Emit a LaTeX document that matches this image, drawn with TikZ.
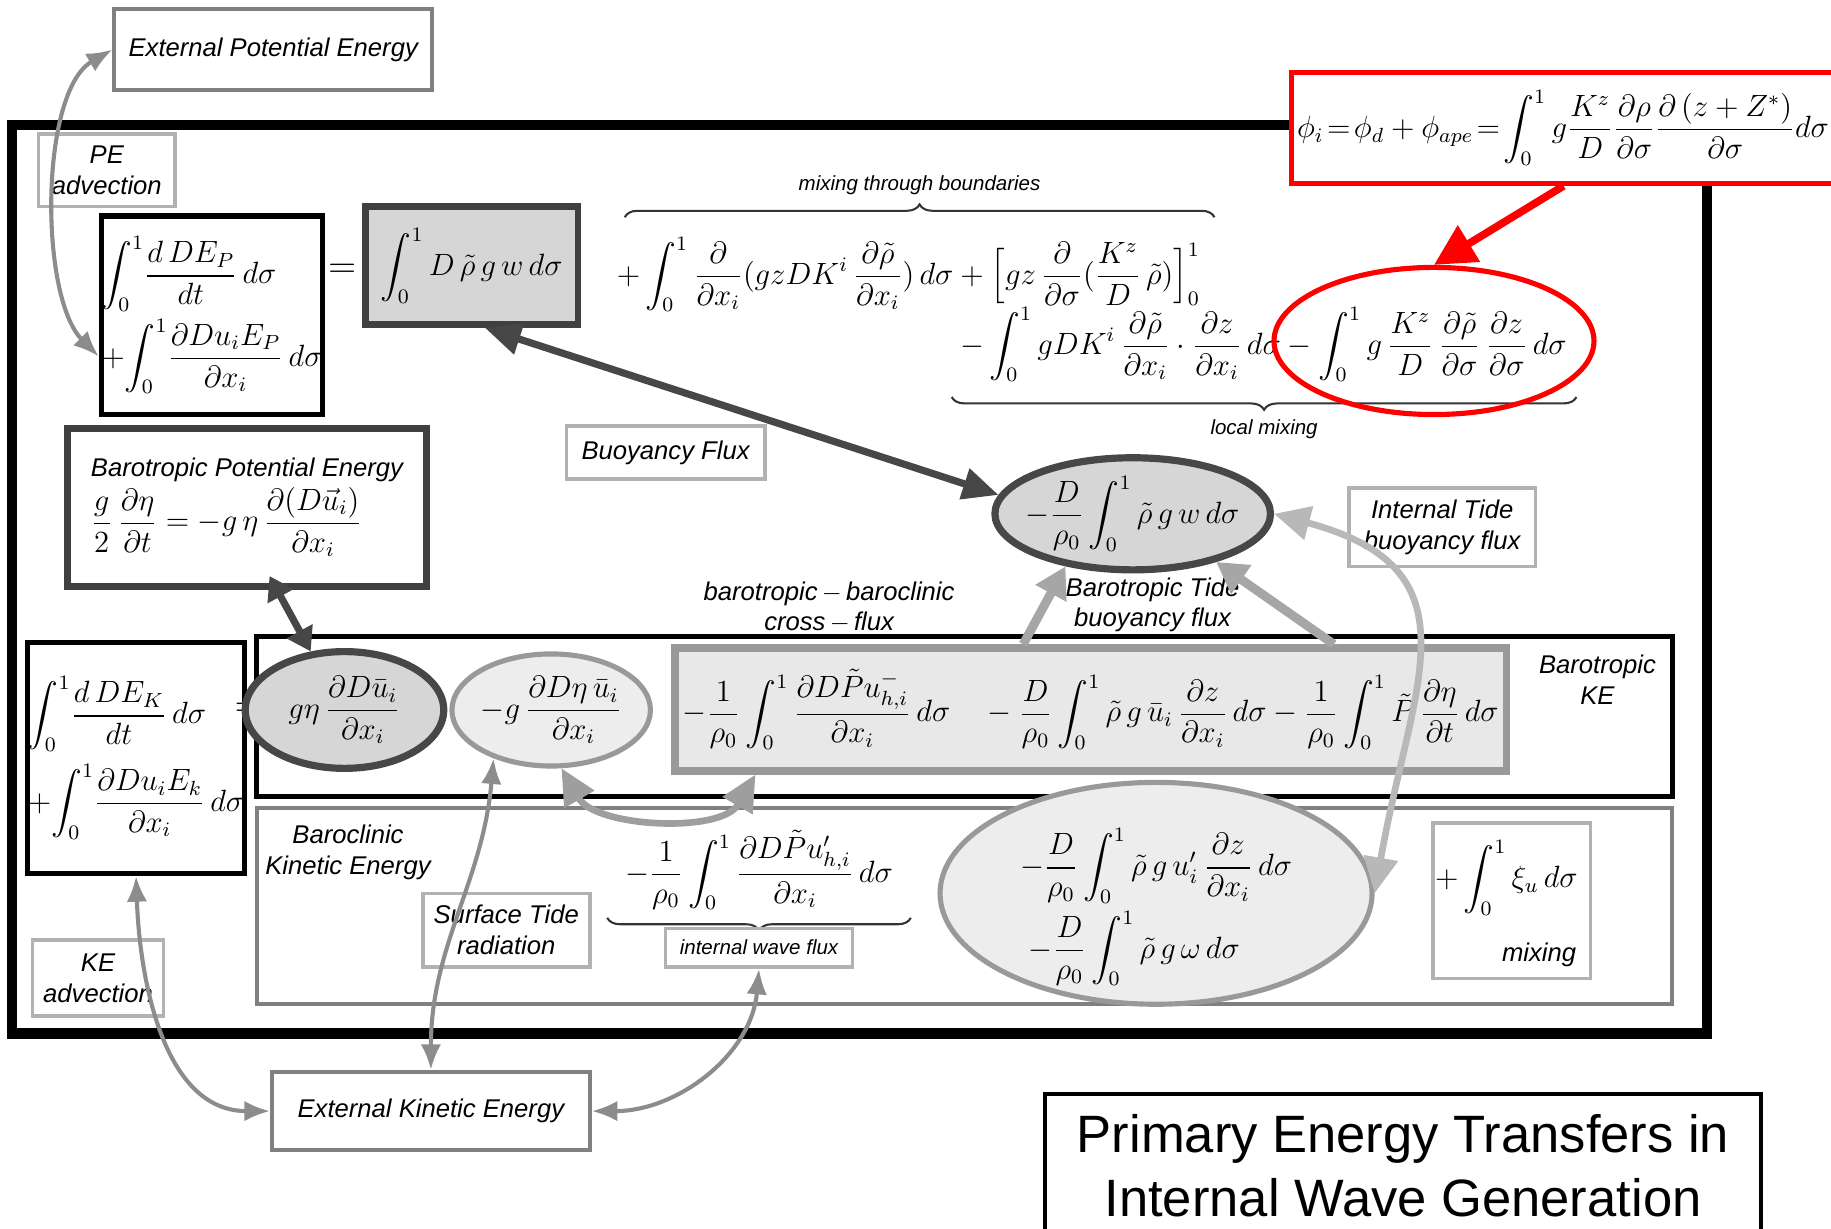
\documentclass[tikz,border=0pt]{standalone}
\usepackage{amsmath,amssymb}
\usepackage{fontspec}
\setmainfont{Liberation Sans}
\usepackage{tikz}
\usetikzlibrary{arrows.meta,calc,shapes.geometric,decorations.pathreplacing}
\newcommand{\pxu}{0.016cm}
\newcommand{\intl}{\int_0^1}
\tikzset{
  sz/.style 2 args={minimum width=#1*\pxu,minimum height=#2*\pxu},
  lbox/.style={draw=black!30,line width=1.4pt,fill=white,align=center,inner sep=0pt,font=\normalsize\itshape},
  mbox/.style={draw=black!50,line width=1.6pt,align=center,inner sep=0pt,font=\normalsize\itshape},
  kbox/.style={draw=black,line width=2pt,align=left,inner sep=0pt},
  dkbox/.style={draw=black!75,line width=2.6pt,align=left,inner sep=0pt},
  dell/.style={ellipse,draw=black!72,line width=2.8pt,fill=black!16,inner sep=0pt},
  lell/.style={ellipse,draw=black!40,line width=2pt,fill=black!7,inner sep=0pt},
  lab/.style={font=\normalsize\itshape,align=center,inner sep=1pt},
  eqn/.style={font=\large,inner sep=0pt},
  brc/.style={decorate,decoration={brace,amplitude=5pt},draw=black!80,line width=0.8pt},
  garr/.style={{Latex[length=10pt,width=8pt]}-{Latex[length=10pt,width=8pt]},draw=black!45,line width=1.6pt},
  darr/.style={{Triangle[length=14pt,width=12pt]}-{Triangle[length=14pt,width=12pt]},draw=black!72,line width=2.8pt},
  larr/.style={{Triangle[length=14pt,width=13pt]}-{Triangle[length=14pt,width=13pt]},draw=black!28,line width=2.6pt},
  uarr/.style={-{Triangle[length=12pt,width=13pt]},draw=black!35,line width=3.5pt},
  redarr/.style={-{Triangle[length=16pt,width=16pt]},draw=red,line width=3pt}
}

\begin{document}
\begin{tikzpicture}[x=\pxu,y=\pxu]
\useasboundingbox (0,0) rectangle (1568,1052);
% frames
\node[draw,line width=4pt,sz={1452}{778}] (frm) at (736,556) {};
\node[kbox,sz={1212}{137}] (bke) at (826,438.5) {};
\node[mbox,sz={1212}{168}] (bcke) at (826,276) {};

% potential energy part
\node[mbox,sz={272}{69}] (epe) at (234,1009.5) {External Potential Energy};
\node[lbox,sz={117}{62}] (pea) at (91.5,906) {PE\\advection};
\node[kbox,sz={183}{170},font=\large] (dep) at (181.5,782)
  {$\displaystyle\intl\!\frac{d\,DE_P}{dt}\,d\sigma$\\[2pt]$\displaystyle+\!\intl\!\frac{\partial D u_i E_P}{\partial x_i}\,d\sigma$};
\node[font=\Large] (eq1) at (293,820) {$=$};
\node[dkbox,sz={182}{101},fill=black!16,align=center,font=\large] (bbox) at (404,824.5)
  {$\displaystyle\intl D\,\tilde\rho\,g\,w\,d\sigma$};
\node[eqn] (mix1) at (778,817)
  {$\displaystyle+\intl\frac{\partial}{\partial x_i}(gzDK^i\,\frac{\partial\tilde\rho}{\partial x_i})\,d\sigma+\Bigl[gz\,\frac{\partial}{\partial\sigma}(\frac{K^z}{D}\,\tilde\rho)\Bigr]_0^1$};
\node[eqn] (mix2) at (1082,757)
  {$\displaystyle-\intl gDK^i\,\frac{\partial\tilde\rho}{\partial x_i}\cdot\frac{\partial z}{\partial x_i}\,d\sigma-\intl g\,\frac{K^z}{D}\,\frac{\partial\tilde\rho}{\partial\sigma}\,\frac{\partial z}{\partial\sigma}\,d\sigma$};
\coordinate (mbl) at (535,866);
\coordinate (mbr) at (1040,866);
\draw[brc] (mbl) -- (mbr) node[midway,above=5pt,font=\footnotesize\itshape] (mbt) {mixing through boundaries};
\coordinate (lbl) at (815,712);
\coordinate (lbr) at (1350,712);
\draw[brc] (lbr) -- (lbl) node[midway,below=5pt,font=\footnotesize\itshape] (lbt) {local mixing};

\node[dkbox,sz={307}{135}] (bpe) at (211.5,617.5)
  {\itshape Barotropic Potential Energy\\[1pt]\large$\displaystyle\frac{g}{2}\,\frac{\partial\eta}{\partial t}=-g\,\eta\,\frac{\partial(D\vec{u}_i)}{\partial x_i}$};
\node[lbox,sz={170}{45}] (bflx) at (570,664.5) {Buoyancy Flux};
\node[dell,sz={236}{96}] (bell) at (970,612) {};
\node[eqn] (bellt) at (bell) {$\displaystyle-\frac{D}{\rho_0}\intl\tilde\rho\,g\,w\,d\sigma$};
\node[lbox,sz={160}{67}] (itb) at (1235,600.5) {Internal Tide\\buoyancy flux};
\node[lab] (cfl) at (710,532) {barotropic\,$-$\,baroclinic\\cross\,$-$\,flux};
\node[lab] (btt) at (987,534) {Barotropic Tide\\buoyancy flux};

% kinetic energy part
\node[lab] (bkel) at (1368,470) {Barotropic\\KE};
\node[kbox,sz={183}{198},font=\large] (dek) at (116.5,403)
  {$\displaystyle\intl\!\frac{d\,DE_K}{dt}\,d\sigma$\\[4pt]$\displaystyle+\!\intl\!\frac{\partial D u_i E_k}{\partial x_i}\,d\sigma$};
\node[font=\Large] (eq2) at (213,444) {$=$};
\node[dell,sz={170}{100}] (ga) at (295,444) {};
\node[eqn] (gat) at (ga) {$\displaystyle g\eta\,\frac{\partial D\bar u_i}{\partial x_i}$};
\node[lell,sz={170}{96}] (gb) at (472,444) {};
\node[eqn] (gbt) at (gb) {$\displaystyle -g\,\frac{\partial D\eta\,\bar u_i}{\partial x_i}$};
\node[draw=black!40,line width=3pt,fill=black!9,sz={712}{105},inner sep=0pt] (gbox) at (934,444.5) {};
\node[eqn] (gboxt) at (gbox)
  {$\displaystyle-\frac{1}{\rho_0}\intl\frac{\partial D\tilde P u^{-}_{h,i}}{\partial x_i}\,d\sigma\quad-\frac{D}{\rho_0}\intl\tilde\rho\,g\,\bar u_i\,\frac{\partial z}{\partial x_i}\,d\sigma-\frac{1}{\rho_0}\intl\tilde P\,\frac{\partial\eta}{\partial t}\,d\sigma$};

\node[lab] (bckel) at (298,322) {Baroclinic\\Kinetic Energy};
\node[lbox,sz={143}{63}] (stb) at (433.5,255.5) {Surface Tide\\radiation};
\node[eqn] (iweq) at (650,307) {$\displaystyle-\frac{1}{\rho_0}\intl\frac{\partial D\tilde P u'_{h,i}}{\partial x_i}\,d\sigma$};
\coordinate (iwl) at (520,266);
\coordinate (iwr) at (780,266);
\draw[brc] (iwr) -- (iwl);
\node[lbox,sz={160}{33},font=\footnotesize\itshape] (iwb) at (650,240.5) {internal wave flux};
\node[lell,sz={370}{190}] (bige) at (990,287) {};
\node[eqn,align=left] (biget) at (990,275)
  {$\displaystyle-\frac{D}{\rho_0}\intl\tilde\rho\,g\,u'_i\,\frac{\partial z}{\partial x_i}\,d\sigma$\\[2pt]
   $\displaystyle\;-\frac{D}{\rho_0}\intl\tilde\rho\,g\,\omega\,d\sigma$};
\node[lbox,sz={135}{133}] (mxb) at (1294.5,280.5) {};
\node[eqn] (mxeq) at (1290,300) {$\displaystyle+\intl\xi_u\,d\sigma$};
\node[lab] (mxl) at (1318,234) {mixing};
\node[lbox,sz={112}{65}] (kea) at (84,214.5) {KE\\advection};
\node[mbox,sz={272}{67}] (eke) at (369,100.5) {External Kinetic Energy};

% connectors
\draw[garr] (epe.west) to[out=210,in=135,looseness=0.7] (dep.200);
\draw[darr] (bbox.-78) -- (bell.172);
\draw[darr,{Triangle[length=9pt,width=11pt]}-{Triangle[length=9pt,width=11pt]},shorten <=-6pt] (bpe.-70) -- (ga.120);
\draw[larr] (bige.east) to[out=80,in=-15,looseness=1.4] (bell.east);
\draw[uarr] (gbox.136) -- (bell.218);
\draw[uarr] (gbox.15) -- (bell.-30);
\draw[garr] (eke.north) to[out=90,in=-95] (gb.220);
\draw[larr,draw=black!38] (gb.-80) to[out=-60,in=-120,looseness=0.9] (gbox.191);
\draw[garr] (dek.south) to[out=-88,in=180] (eke.west);
\draw[garr] (eke.east) to[out=0,in=-95] (iwb.south);

% red note
\node[draw=red,line width=2pt,fill=white,sz={466}{95},inner sep=0pt] (phi) at (1339,942.5) {};
\node[anchor=west,inner sep=0pt,font=\large] (phit) at ([xshift=3pt]phi.west)
  {$\phi_i\!=\!\phi_d+\phi_{ape}\!=\!\displaystyle\intl g\frac{K^z}{D}\frac{\partial\rho}{\partial\sigma}\frac{\partial\,(z+Z^*)}{\partial\sigma}d\sigma$};
\node[ellipse,draw=red,line width=2pt,sz={274}{126}] (redell) at (1228,760) {};
\draw[redarr] (phi.south) -- (redell.north);

\node[draw,line width=1.6pt,sz={613}{123},align=center,font=\fontsize{20.5}{25}\selectfont] (ttl) at (1201.5,53.5)
  {Primary Energy Transfers in\\Internal Wave Generation};
\end{tikzpicture}
\end{document}
